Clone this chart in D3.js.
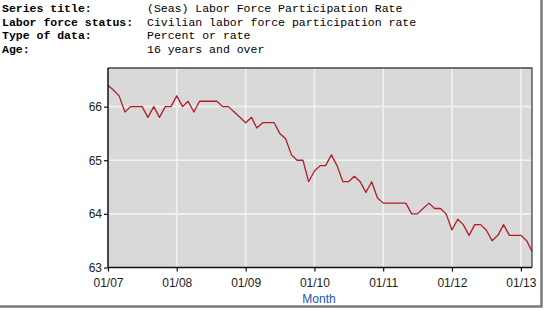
<!DOCTYPE html>
<meta charset="utf-8">
<head>
  <style>
    body {
      margin: 0;
      background: #fff;
    }
    svg {
      display: block;
    }
    .hdr {
      font-family: 'Liberation Mono', 'Courier New', monospace;
      font-size: 11.5px;
      fill: #000;
    }
    .hdr .lbl {
      font-weight: bold;
    }
    .tick text {
      font-family: 'Liberation Sans', Arial, sans-serif;
      font-size: 12px;
      fill: #222;
    }
  </style>
</head>
<body>
<svg id="chart" width="544" height="310"></svg>

<script src="https://d3js.org/d3.v7.min.js"></script>
<script>

  // header lines
  var hdrLabels = ["Series title:", "Labor force status:", "Type of data:", "Age:"];
  var hdrValues = ["(Seas) Labor Force Participation Rate",
                   "Civilian labor force participation rate",
                   "Percent or rate",
                   "16 years and over"];

  // monthly values, Jan 2007 - Mar 2013
  var startMonth = "2007-01";
  var rate = [
    66.4, 66.3, 66.2, 65.9, 66.0, 66.0, 66.0, 65.8, 66.0, 65.8, 66.0, 66.0,  // 2007
    66.2, 66.0, 66.1, 65.9, 66.1, 66.1, 66.1, 66.1, 66.0, 66.0, 65.9, 65.8,  // 2008
    65.7, 65.8, 65.6, 65.7, 65.7, 65.7, 65.5, 65.4, 65.1, 65.0, 65.0, 64.6,  // 2009
    64.8, 64.9, 64.9, 65.1, 64.9, 64.6, 64.6, 64.7, 64.6, 64.4, 64.6, 64.3,  // 2010
    64.2, 64.2, 64.2, 64.2, 64.2, 64.0, 64.0, 64.1, 64.2, 64.1, 64.1, 64.0,  // 2011
    63.7, 63.9, 63.8, 63.6, 63.8, 63.8, 63.7, 63.5, 63.6, 63.8, 63.6, 63.6,  // 2012
    63.6, 63.5, 63.3                                                        // 2013
  ];
  var yTicks = [63, 64, 65, 66];
  var xTickLabels = ["01/07", "01/08", "01/09", "01/10", "01/11", "01/12", "01/13"];
  var xTitle = "Month";

  var parseM = d3.timeParse("%Y-%m");
  var t0 = parseM(startMonth);
  var data = rate.map(function (v, i) { return {date: d3.timeMonth.offset(t0, i), v: v}; });
  var xTickDates = xTickLabels.map(function (s) { return parseM("20" + s.slice(3) + "-" + s.slice(0, 2)); });

  var L = 108, R = 532, T = 68, B = 267.5;

  var svg = d3.select("#chart");

  // header
  var hdr = svg.append("g").attr("class", "hdr");
  hdrLabels.forEach(function (s, i) {
    var y = 12 + i * 13.6;
    hdr.append("text").attr("class", "lbl").attr("x", 2).attr("y", y).text(s);
    hdr.append("text").attr("x", 147).attr("y", y).text(hdrValues[i]);
  });

  var x = d3.scaleTime()
            .domain([t0, data[data.length - 1].date])
            .range([L, R]);
  var y = d3.scaleLinear()
            .domain([63, 66.72])
            .range([B, T]);

  // plot background
  svg.append("rect")
     .attr("x", L).attr("y", T)
     .attr("width", R - L).attr("height", B - T)
     .attr("fill", "#d9d9d9");

  // grid
  var grid = svg.append("g").attr("stroke", "#f2f2f2").attr("stroke-width", 1.6);
  grid.selectAll(".gx").data(xTickDates.slice(1)).enter().append("line")
      .attr("x1", function (d) { return x(d); }).attr("x2", function (d) { return x(d); })
      .attr("y1", T).attr("y2", B);
  grid.selectAll(".gy").data(yTicks.slice(1)).enter().append("line")
      .attr("x1", L).attr("x2", R)
      .attr("y1", function (d) { return y(d); }).attr("y2", function (d) { return y(d); });

  // series line
  var line = d3.line()
               .x(function (d) { return x(d.date); })
               .y(function (d) { return y(d.v); });
  svg.append("path")
     .datum(data)
     .attr("d", line)
     .attr("fill", "none")
     .attr("stroke", "#b01e28")
     .attr("stroke-width", 1.3)
     .attr("stroke-linejoin", "round");

  // top / right frame
  svg.append("path")
     .attr("d", "M" + L + "," + T + "H" + R + "V" + B)
     .attr("fill", "none")
     .attr("stroke", "#444")
     .attr("stroke-width", 1.3);

  // axes
  var xAxis = d3.axisBottom(x)
                .tickValues(xTickDates)
                .tickFormat(function (d, i) { return xTickLabels[i]; })
                .tickSize(4).tickPadding(7);
  var gx = svg.append("g").attr("transform", "translate(0," + B + ")").call(xAxis);

  var yAxis = d3.axisLeft(y)
                .tickValues(yTicks)
                .tickFormat(d3.format("d"))
                .tickSize(4).tickPadding(2);
  var gy = svg.append("g").attr("transform", "translate(" + L + ",0)").call(yAxis);

  [gx, gy].forEach(function (g) {
    g.select(".domain").attr("stroke", "#111").attr("stroke-width", 1.5);
    g.selectAll(".tick line").attr("stroke", "#111").attr("stroke-width", 1.2);
  });
  gx.select(".domain").attr("d", "M" + L + ",0H" + R);
  gy.select(".domain").attr("d", "M0," + T + "V" + B);

  // axis title
  svg.append("text")
     .attr("x", (L + R) / 2 - 1).attr("y", 303)
     .attr("text-anchor", "middle")
     .style("font-family", "'Liberation Sans', Arial, sans-serif")
     .style("font-size", "12px")
     .attr("fill", "#2354b0")
     .text(xTitle);

  // window shadow at right / bottom
  svg.append("path")
     .attr("d", "M541.5,0V306.5H0")
     .attr("fill", "none")
     .attr("stroke", "#7a7a7a")
     .attr("stroke-width", 2.5);

</script>
</body>
